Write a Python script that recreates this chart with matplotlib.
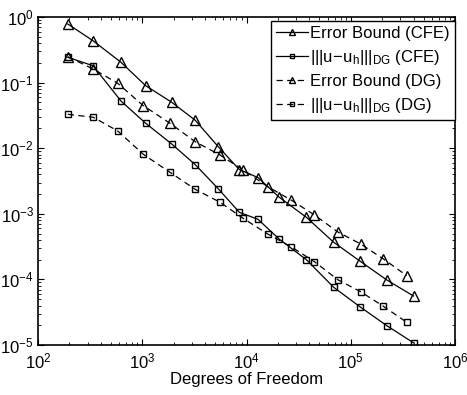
import numpy as np
import matplotlib
matplotlib.use("Agg")
from matplotlib import pyplot as plt

plt.rcParams['font.family'] = ['Liberation Sans', 'DejaVu Sans']
plt.rcParams['font.size'] = 12
plt.rcParams['mathtext.fontset'] = 'custom'
plt.rcParams['mathtext.rm'] = 'Liberation Sans'
plt.rcParams['mathtext.it'] = 'Liberation Sans'
plt.rcParams['mathtext.default'] = 'regular'

# degrees of freedom
dof_cfe = [193, 337, 625, 1079, 1918, 3228, 5358, 8531, 12890, 20680,
           37500, 68600, 123300, 221900, 399900]
dof_dg = [193, 339, 582, 1023, 1845, 3222, 5573, 9330, 15990, 26830,
          44870, 75170, 124400, 205600, 344400]

# errors
bound_cfe = [0.782, 0.435, 0.204, 0.0897, 0.0501, 0.0266, 0.01054, 0.00473,
             0.00357, 0.00178, 0.000885, 0.000368, 0.000189, 9.79e-5, 5.58e-5]
err_cfe = [0.243, 0.181, 0.0524, 0.0240, 0.01159, 0.00560, 0.00241, 0.001054,
           0.000824, 0.000409, 0.000200, 7.58e-5, 3.80e-5, 1.97e-5, 1.08e-5]
bound_dg = [0.248, 0.161, 0.0976, 0.0445, 0.0240, 0.01257, 0.00787, 0.00465,
            0.00259, 0.00162, 0.000959, 0.000528, 0.000347, 0.000205, 0.000114]
err_dg = [0.0329, 0.0296, 0.0183, 0.00807, 0.00429, 0.00236, 0.00150, 0.000848,
          0.000492, 0.000314, 0.000186, 9.89e-5, 6.49e-5, 3.89e-5, 2.22e-5]

labels = ['Error Bound (CFE)', r'$|||u\!-\!u_h|||_{DG}$ (CFE)',
          'Error Bound (DG)', r'$|||u\!-\!u_h|||_{DG}$ (DG)']

fig = plt.figure(figsize=(4.67, 3.95), dpi=100)
ax = fig.add_axes([38/467, 1-345/395, (455-38)/467, (345-17)/395])

dash = (0, (5, 3.5))
kw = dict(color='k', lw=0.9, markerfacecolor='none', markeredgecolor='k', markeredgewidth=1.0)
ax.loglog(dof_cfe, bound_cfe, '-', marker='^', ms=6.5, label=labels[0], **kw)
ax.loglog(dof_cfe, err_cfe, '-', marker='s', ms=5, label=labels[1], **kw)
ax.loglog(dof_dg, bound_dg, linestyle=dash, marker='^', ms=6.5, label=labels[2], **kw)
ax.loglog(dof_dg, err_dg, linestyle=dash, marker='s', ms=5, label=labels[3], **kw)

ax.set_xlim(1e2, 1e6)
ax.set_ylim(1e-5, 1e0)
ax.set_xlabel('Degrees of Freedom', labelpad=0)
ax.tick_params(which='both', direction='in', top=True, right=True)
ax.tick_params(axis='x', pad=5)
ax.tick_params(axis='y', pad=3)
ax.tick_params(which='major', length=4)
ax.tick_params(which='minor', length=2)
for s in ax.spines.values():
    s.set_linewidth(1.2)

leg = ax.legend(loc='upper right', bbox_to_anchor=(1.0, 0.988), borderaxespad=0,
                fancybox=False, edgecolor='k', framealpha=1, handlelength=1.9,
                handletextpad=0.15, labelspacing=0.42, borderpad=0.3, markerscale=0.7)
leg.get_frame().set_linewidth(1.0)

fig.savefig('out.png', dpi=100)
